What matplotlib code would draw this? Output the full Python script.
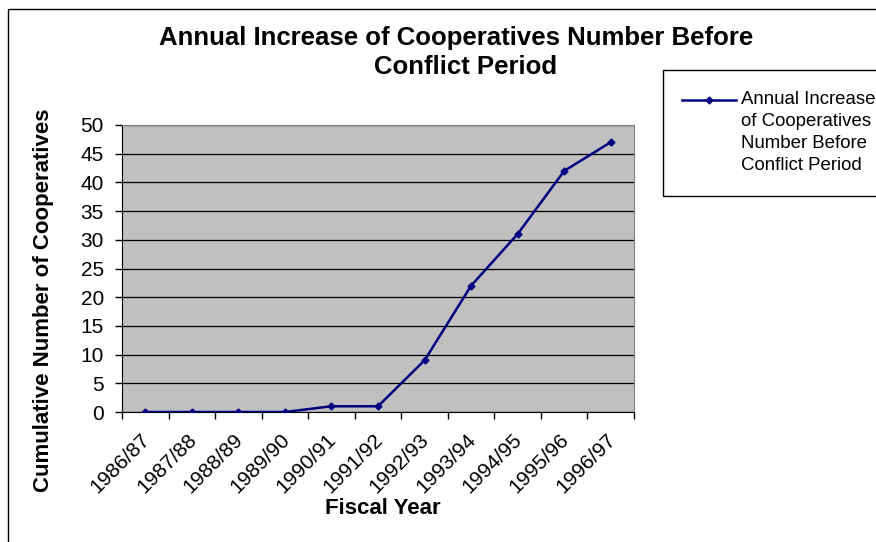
import matplotlib
matplotlib.use("Agg")
import matplotlib.pyplot as plt
from matplotlib.patches import Rectangle
from matplotlib.lines import Line2D
from matplotlib.transforms import ScaledTranslation
import numpy as np

plt.rcParams['font.family'] = ['Liberation Sans', 'DejaVu Sans']

years = ["1986/87", "1987/88", "1988/89", "1989/90", "1990/91", "1991/92",
         "1992/93", "1993/94", "1994/95", "1995/96", "1996/97"]
cooperatives = [0, 0, 0, 0, 1, 1, 9, 22, 31, 42, 47]
series_name = "Annual Increase\nof Cooperatives\nNumber Before\nConflict Period"

W, H = 876, 542
fig = plt.figure(figsize=(W / 100, H / 100), dpi=100)

def fx(px):
    return px / W

def fy(py):
    return 1 - py / H

ax = fig.add_axes([fx(122), fy(412), fx(634) - fx(122), fy(125) - fy(412)])
ax.set_facecolor('#c0c0c0')

x = np.arange(len(years))
ax.plot(x, cooperatives, color='#000080', lw=1.8, marker='D', ms=3.5, zorder=3)

ax.set_xlim(-0.5, len(years) - 0.5)
ax.set_ylim(0, 50)
ax.set_yticks(range(0, 51, 5))
ax.yaxis.grid(True, color='black', lw=0.9)
ax.set_axisbelow(True)

# category ticks between points, labels at the points
ax.set_xticks(np.arange(-0.5, len(years), 1))
ax.set_xticklabels([])
ax.set_xticks(x, minor=True)
ax.set_xticklabels(years, minor=True, rotation=45, ha='right', rotation_mode='anchor', fontsize=15)
ax.tick_params(axis='x', which='minor', length=0, pad=13)
ax.tick_params(axis='x', which='major', length=5, width=1, direction='out')
ax.tick_params(axis='y', length=5, width=1, direction='out', labelsize=15, pad=8)
# nudge the rotated labels a little to the left
shift = ScaledTranslation(-5 / 100, 0, fig.dpi_scale_trans)
for lbl in ax.get_xticklabels(minor=True):
    lbl.set_transform(lbl.get_transform() + shift)

for side in ['top', 'right']:
    ax.spines[side].set_color('#808080')
for side in ['left', 'bottom']:
    ax.spines[side].set_color('black')

fig.text(fx(456), fy(38), "Annual Increase of Cooperatives Number Before",
         ha='center', va='center', fontsize=18.5, fontweight='bold')
fig.text(fx(466), fy(67), "Conflict Period",
         ha='center', va='center', fontsize=18.5, fontweight='bold')
fig.text(fx(44), fy(300), "Cumulative Number of Cooperatives", rotation=90,
         ha='center', va='center', fontsize=16, fontweight='bold')
fig.text(fx(383), fy(509), "Fiscal Year", ha='center', va='center', fontsize=16, fontweight='bold')

# outer chart border
fig.add_artist(Rectangle((fx(8), -0.1), 1.2, fy(9) + 0.1, transform=fig.transFigure,
                         fill=False, edgecolor='black', lw=1))

# legend box, drawn by hand
fig.add_artist(Rectangle((fx(663), fy(196)), 0.4, fy(70) - fy(196), transform=fig.transFigure,
                         fill=False, edgecolor='black', lw=1))
fig.add_artist(Line2D([fx(682), fx(736)], [fy(100), fy(100)], transform=fig.transFigure,
                      color='#000080', lw=1.8))
fig.add_artist(Line2D([fx(709)], [fy(100)], transform=fig.transFigure, color='#000080',
                      marker='D', ms=3.5))
for i, line in enumerate(series_name.split("\n")):
    fig.text(fx(741), fy(100 + 21.7 * i), line, ha='left', va='center', fontsize=13.4)

fig.savefig('out.png', dpi=100)
